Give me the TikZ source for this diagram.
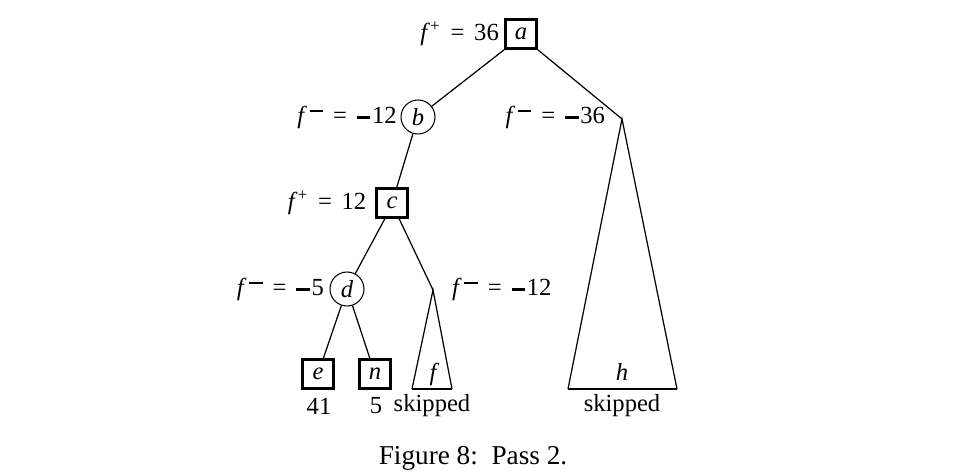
\documentclass[tikz,border=0pt]{standalone}
\usepackage{fontspec}
\setmainfont{Liberation Serif}
\usetikzlibrary{positioning}
\newcommand{\fplus}{\textit{f}\textsuperscript{+}}
\newcommand{\fminus}{\textit{f}\kern1.5pt\rule[0.44em]{0.55em}{0.09em}}
\newcommand{\negsign}{\rule[0.17em]{0.55em}{0.11em}\kern1pt}
\newcommand{\eqs}{\hspace{0.4em}=\hspace{0.4em}}
\tikzset{
  maxnode/.style={draw, line width=1.2pt, minimum width=0.62cm, minimum height=0.58cm, inner sep=0pt, font=\fontsize{14}{16}\selectfont\itshape},
  minnode/.style={draw, circle, line width=0.6pt, minimum size=0.68cm, inner sep=0pt, font=\fontsize{14}{16}\selectfont\itshape},
  vallabel/.style={inner sep=1pt, font=\fontsize{14}{16}\selectfont},
  edge/.style={line width=0.7pt},
  base/.style={line width=1.4pt}
}
\begin{document}
\begin{tikzpicture}[x=0.02cm, y=-0.02cm]
        \useasboundingbox (0,0) rectangle (962,472);
        % game tree nodes
        \node[maxnode] (a) at (521,34) {a};
        \node[minnode] (b) at (418,117) {b};
        \node[maxnode] (c) at (392,203) {c};
        \node[minnode] (d) at (347,289) {d};
        \node[maxnode] (e) at (318,374) {e};
        \node[maxnode] (n) at (375,374) {n};
        % skipped subtrees
        \coordinate (fa) at (433,290);
        \coordinate (fl) at (412,389);
        \coordinate (fr) at (452,389);
        \coordinate (ga) at (622,119);
        \coordinate (gl) at (568,389);
        \coordinate (gr) at (677,389);
        \draw[edge] (fl) -- (fa) -- (fr);
        \draw[base] (fl) -- (fr);
        \draw[edge] (gl) -- (ga) -- (gr);
        \draw[base] (gl) -- (gr);
        \node[vallabel, font=\fontsize{14}{16}\selectfont\itshape] (f) at (433,374) {f};
        \node[vallabel, font=\fontsize{14}{16}\selectfont\itshape] (h) at (622,372) {h};
        % edges
        \draw[edge] (a.south west) -- (b);
        \draw[edge] (a.south east) -- (ga);
        \draw[edge] (b) -- (c);
        \draw[edge] ([xshift=-4pt]c.south) -- (d);
        \draw[edge] ([xshift=4pt]c.south) -- (fa);
        \draw[edge] (d) -- (e);
        \draw[edge] (d) -- (n);
        % bounds
        \node[vallabel, left=2pt of a] (la) {\fplus\eqs36};
        \node[vallabel, left=1pt of b] (lb) {\fminus\eqs\negsign12};
        \node[vallabel, anchor=east] (lg) at (607,117) {\fminus\eqs\negsign36};
        \node[vallabel, left=4pt of c] (lc) {\fplus\eqs12};
        \node[vallabel, left=2pt of d] (ld) {\fminus\eqs\negsign5};
        \node[vallabel, anchor=west] (lf) at (450,289) {\fminus\eqs\negsign12};
        % leaf values
        \node[vallabel] (ve) at (319,406) {41};
        \node[vallabel] (vn) at (376,406) {5};
        \node[vallabel] (vf) at (432,406) {skipped};
        \node[vallabel] (vh) at (622,406) {skipped};
        \node[vallabel, font=\fontsize{15.5}{18}\selectfont] (cap) at (473,458) {Figure 8:\ \ Pass 2.};
      \end{tikzpicture}
\end{document}
